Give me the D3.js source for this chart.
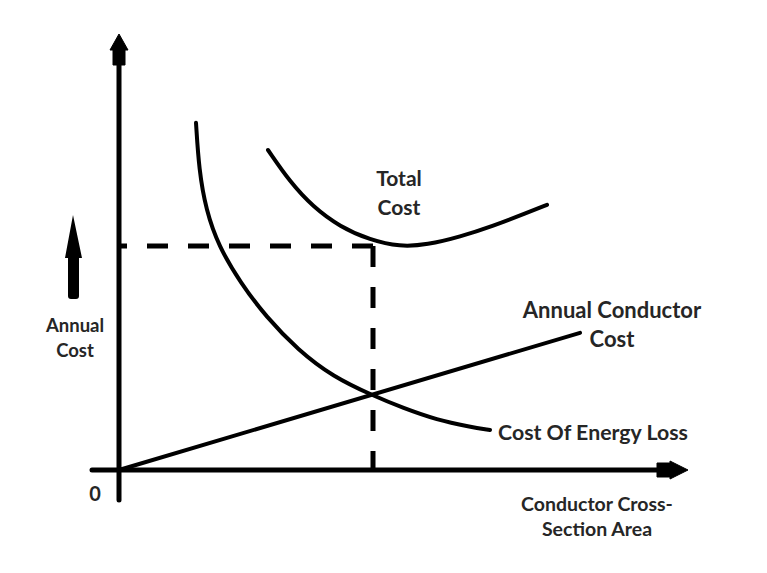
<!DOCTYPE html>
<html>
<head>
<meta charset="utf-8">
<script src="https://cdn.jsdelivr.net/npm/d3@7"></script>
<style>
  body { margin: 0; background: #fff; }
  text { font-family: Lato, "Open Sans", sans-serif; font-weight: bold; fill: #262626; }
</style>
</head>
<body>
<div id="chart"></div>
<script>
// curve values (x = cross-section, y = annual cost, arbitrary units)
var energyLossX = [1.54, 1.60, 1.74, 1.99, 2.43, 2.94, 3.58, 4.28, 5.08, 5.68, 6.36, 7.02, 7.42];
var energyLossY = [8.68, 7.5, 6.5, 5.6, 4.68, 3.83, 3.0, 2.33, 1.86, 1.55, 1.25, 1.08, 1.0];

var totalX = [2.98, 3.42, 3.88, 4.42, 5.02, 5.62, 6.16, 6.82, 7.48, 8.16, 8.56];
var totalY = [8.0, 7.2, 6.58, 6.08, 5.75, 5.58, 5.63, 5.83, 6.1, 6.43, 6.63];

var conductorX = [0, 9.22];
var conductorY = [0, 3.43];

// optimum point (where the dashed guides meet)
var optimum = { x: 5.08, y: 5.6 };

// axis extents, data units
var xAxisExtent = [-0.54, 11.02];
var yAxisExtent = [-0.75, 10.5];

var width = 767, height = 573;

var svg = d3.select("#chart").append("svg")
  .attr("width", width)
  .attr("height", height);

svg.append("rect").attr("width", width).attr("height", height).attr("fill", "#fff");

var x = d3.scaleLinear().domain([0, 10]).range([119, 619]);
var y = d3.scaleLinear().domain([0, 10]).range([470, 70]);

function zip(xs, ys) {
  return xs.map(function(v, i) { return [v, ys[i]]; });
}

var line = d3.line()
  .x(function(d) { return x(d[0]); })
  .y(function(d) { return y(d[1]); })
  .curve(d3.curveBasis);

// dashed guides
svg.append("line")
  .attr("x1", x(optimum.x)).attr("x2", x(0))
  .attr("y1", y(optimum.y)).attr("y2", y(optimum.y))
  .attr("stroke", "#000").attr("stroke-width", 5)
  .attr("stroke-dasharray", "21,20");
svg.append("line")
  .attr("x1", x(optimum.x)).attr("x2", x(optimum.x))
  .attr("y1", y(optimum.y)).attr("y2", y(0))
  .attr("stroke", "#000").attr("stroke-width", 5)
  .attr("stroke-dasharray", "21,20");

// curves
[zip(energyLossX, energyLossY), zip(totalX, totalY), zip(conductorX, conductorY)].forEach(function(pts) {
  svg.append("path")
    .attr("d", line(pts))
    .attr("fill", "none")
    .attr("stroke", "#000")
    .attr("stroke-width", 4)
    .attr("stroke-linecap", "round");
});

// axes
var x0 = x(0), y0 = y(0);
svg.append("line")
  .attr("x1", x0).attr("x2", x0)
  .attr("y1", y(yAxisExtent[0])).attr("y2", y(yAxisExtent[1]) + 15)
  .attr("stroke", "#000").attr("stroke-width", 5).attr("stroke-linecap", "round");
svg.append("line")
  .attr("x1", x(xAxisExtent[0])).attr("x2", x(xAxisExtent[1]) - 13)
  .attr("y1", y0).attr("y2", y0)
  .attr("stroke", "#000").attr("stroke-width", 5).attr("stroke-linecap", "round");

// arrow heads
var yTop = y(yAxisExtent[1]);
svg.append("path")
  .attr("d", "M" + (x0 - 6) + "," + (yTop + 15) + "V" + yTop + "H" + (x0 - 9) +
             "L" + x0 + "," + (yTop - 16) + "L" + (x0 + 9) + "," + yTop +
             "H" + (x0 + 6) + "V" + (yTop + 15) + "Z")
  .attr("fill", "#000").attr("stroke", "#000").attr("stroke-width", 1).attr("stroke-linejoin", "round");
var xEnd = x(xAxisExtent[1]);
svg.append("path")
  .attr("d", "M" + (xEnd - 13) + "," + (y0 - 7) + "H" + xEnd + "V" + (y0 - 9) +
             "L" + (xEnd + 18) + "," + y0 + "L" + xEnd + "," + (y0 + 9) +
             "V" + (y0 + 7) + "H" + (xEnd - 13) + "Z")
  .attr("fill", "#000").attr("stroke", "#000").attr("stroke-width", 1).attr("stroke-linejoin", "round");

// "annual cost" arrow
svg.append("path")
  .attr("d", "M73,215L82,258H79V296Q79,299 76,299H71Q68,299 68,296V258H65Z")
  .attr("fill", "#000");

// labels
function label(txt, cx, by, size) {
  svg.append("text")
    .attr("x", cx).attr("y", by)
    .attr("text-anchor", "middle")
    .style("font-size", size + "px")
    .text(txt);
}
label("Total", 399, 186, 21);
label("Cost", 399, 215, 21);
label("Annual Conductor", 612, 318, 22);
label("Cost", 612, 347, 22);
label("Cost Of Energy Loss", 593, 440, 21.3);
label("Annual", 75, 332, 18.5);
label("Cost", 75, 357, 18.5);
label("0", 95, 501, 20);
label("Conductor Cross-", 597, 511, 19.5);
label("Section Area", 597, 536, 19.5);
</script>
</body>
</html>
